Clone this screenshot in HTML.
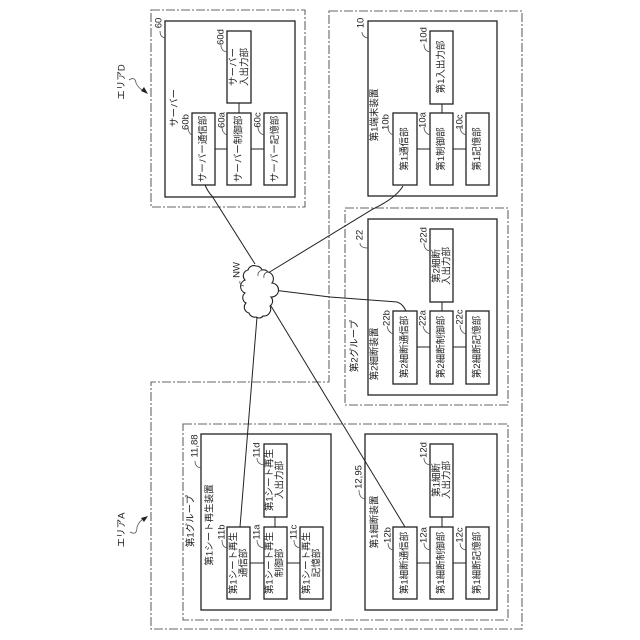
<!DOCTYPE html>
<html><head><meta charset="utf-8"><style>
html,body{margin:0;padding:0;background:#fff}
svg{display:block}
text{font-family:"Liberation Sans","Noto Sans CJK JP",sans-serif;font-size:9.5px;fill:#222;text-anchor:middle;dominant-baseline:central}
.b{fill:#fff;stroke:#222;stroke-width:1.3}
.d{fill:none;stroke:#666;stroke-width:1.1;stroke-dasharray:9 2 2 2}
.l{fill:none;stroke:#222;stroke-width:1}
.t{fill:none;stroke:#555;stroke-width:.8}
</style></head><body>
<svg width="640" height="640" viewBox="0 0 640 640" xmlns="http://www.w3.org/2000/svg">
<rect width="640" height="640" fill="#fff"/>
<!-- dashed areas -->
<rect class="d" x="151" y="10" width="154" height="197"/>
<path class="d" d="M329,11H522V629H151V382H329Z"/>
<rect class="d" x="345" y="208" width="163" height="197"/>
<rect class="d" x="183" y="424" width="325" height="196"/>
<!-- devices -->
<rect class="b" x="165" y="21" width="130" height="176"/>
<rect class="b" x="368" y="21" width="129" height="175"/>
<rect class="b" x="368" y="219" width="129" height="176"/>
<rect class="b" x="201" y="434" width="130" height="176"/>
<rect class="b" x="365" y="434" width="132" height="176"/>
<!-- inner connectors -->
<path class="l" d="M215,149H264M239,103V113M417,149H466M442,104V113M417,347H466M442,302V311M250,563H300M275,517V527M417,563H466M442,517V527"/>
<!-- server blocks -->
<rect class="b" x="227" y="31" width="24" height="72"/>
<rect class="b" x="192" y="113" width="23" height="72"/>
<rect class="b" x="227" y="113" width="24" height="72"/>
<rect class="b" x="264" y="113" width="23" height="72"/>
<!-- terminal blocks -->
<rect class="b" x="430" y="31" width="23" height="73"/>
<rect class="b" x="393" y="113" width="24" height="72"/>
<rect class="b" x="430" y="113" width="23" height="72"/>
<rect class="b" x="466" y="113" width="23" height="72"/>
<!-- group 2 blocks -->
<rect class="b" x="430" y="229" width="23" height="73"/>
<rect class="b" x="393" y="311" width="24" height="73"/>
<rect class="b" x="430" y="311" width="23" height="73"/>
<rect class="b" x="466" y="311" width="23" height="73"/>
<!-- group 1 player blocks -->
<rect class="b" x="264" y="444" width="23" height="73"/>
<rect class="b" x="227" y="527" width="23" height="72"/>
<rect class="b" x="264" y="527" width="23" height="72"/>
<rect class="b" x="300" y="527" width="23" height="72"/>
<!-- shredder blocks -->
<rect class="b" x="430" y="444" width="23" height="73"/>
<rect class="b" x="393" y="527" width="24" height="72"/>
<rect class="b" x="430" y="527" width="23" height="72"/>
<rect class="b" x="466" y="527" width="23" height="72"/>
<!-- network lines -->
<path class="l" d="M205,185Q208,192 212,196L255,264"/>
<path class="l" d="M268,273L373,209Q396,198 403,186"/>
<path class="l" d="M273,290L330,297L397,302Q403,304 406,311"/>
<path class="l" d="M271,306L405,527"/>
<path class="l" d="M257,317L240,527"/>
<!-- cloud -->
<path d="M248,270A6,6 0 0 1 256,266A6,6 0 0 1 262,270A6,6 0 0 1 268,272A7,7 0 0 1 272,283A7,7 0 0 1 271,297A6,6 0 0 1 270,306A7,7 0 0 1 263,316A5,5 0 0 1 256,317A6,6 0 0 1 249,313A6,6 0 0 1 246,303A6,6 0 0 1 245,293A7,7 0 0 1 245,280A6,6 0 0 1 248,270Z" fill="#fff" stroke="#222" stroke-width="1.1"/>
<path class="t" d="M262,270Q257,272 258,276M268,272Q263,273 264,278"/>
<!-- leaders -->
<path class="t" d="M160,31Q160,37 165,38M188,127Q188,133 192,135M222,127Q222,133 227,135M258,127Q258,133 264,135M221,45Q221,51 227,52M362,32Q362,37 368,38M388,127Q388,133 393,135M424,127Q424,133 430,135M460,127Q460,133 466,135M424,44Q424,51 430,52M360,243Q360,248 368,248M387,326Q388,332 393,334M423,326Q424,332 430,334M460,325Q460,332 466,334M424,243Q424,250 430,251M195,461Q195,467 201,468M222,540Q222,547 227,548M257,540Q257,547 264,548M294,540Q294,547 300,548M257,458Q257,464 264,465M359,490Q359,498 365,499M388,543Q388,549 393,550M424,543Q424,549 430,550M460,543Q460,549 466,550M424,458Q424,464 430,465M240,281Q239,285 244,286"/>
<path class="t" d="M129,80Q135,76 136,83Q138,88 145,92M130,532Q137,536 137,527Q139,521 145,518"/>
<path d="M148,94L141,91L144,87Z" fill="#222"/>
<path d="M148,516L144,522L141,518Z" fill="#222"/>
<!-- area labels -->
<text transform="rotate(-90 122 82)" x="122" y="82">エリアD</text>
<text transform="rotate(-90 122 530)" x="122" y="530">エリアA</text>
<text transform="rotate(-90 237 270)" x="237" y="270">NW</text>
<!-- server -->
<text transform="rotate(-90 175 108)" x="175" y="108">サーバー</text>
<text transform="rotate(-90 159 23)" x="159" y="23">60</text>
<text transform="rotate(-90 186 122)" x="186" y="122">60b</text>
<text transform="rotate(-90 222 120)" x="222" y="120">60a</text>
<text transform="rotate(-90 258 120)" x="258" y="120">60c</text>
<text transform="rotate(-90 221 37)" x="221" y="37">60d</text>
<text transform="rotate(-90 234 67)" x="234" y="67">サーバー</text>
<text transform="rotate(-90 245 67)" x="245" y="67">入出力部</text>
<text transform="rotate(-90 203.5 149)" x="203.5" y="149">サーバー通信部</text>
<text transform="rotate(-90 239 149)" x="239" y="149">サーバー制御部</text>
<text transform="rotate(-90 275.5 149)" x="275.5" y="149">サーバー記憶部</text>
<!-- terminal -->
<text transform="rotate(-90 375 115)" x="375" y="115">第1端末装置</text>
<text transform="rotate(-90 361 23)" x="361" y="23">10</text>
<text transform="rotate(-90 386 122)" x="386" y="122">10b</text>
<text transform="rotate(-90 423 120)" x="423" y="120">10a</text>
<text transform="rotate(-90 460 122)" x="460" y="122">10c</text>
<text transform="rotate(-90 424 35)" x="424" y="35">10d</text>
<text transform="rotate(-90 441.5 67)" x="441.5" y="67">第1入出力部</text>
<text transform="rotate(-90 405 149)" x="405" y="149">第1通信部</text>
<text transform="rotate(-90 441.5 149)" x="441.5" y="149">第1制御部</text>
<text transform="rotate(-90 477.5 149)" x="477.5" y="149">第1記憶部</text>
<!-- group 2 -->
<text transform="rotate(-90 355 346)" x="355" y="346">第2グループ</text>
<text transform="rotate(-90 375 354)" x="375" y="354">第2細断装置</text>
<text transform="rotate(-90 360 235)" x="360" y="235">22</text>
<text transform="rotate(-90 387 318)" x="387" y="318">22b</text>
<text transform="rotate(-90 423 318)" x="423" y="318">22a</text>
<text transform="rotate(-90 460 317)" x="460" y="317">22c</text>
<text transform="rotate(-90 424 235)" x="424" y="235">22d</text>
<text transform="rotate(-90 437 266)" x="437" y="266">第2細断</text>
<text transform="rotate(-90 447 266)" x="447" y="266">入出力部</text>
<text transform="rotate(-90 405 347)" x="405" y="347">第2細断通信部</text>
<text transform="rotate(-90 441.5 347)" x="441.5" y="347">第2細断制御部</text>
<text transform="rotate(-90 477.5 347)" x="477.5" y="347">第2細断記憶部</text>
<!-- group 1 -->
<text transform="rotate(-90 191 521)" x="191" y="521">第1グループ</text>
<text transform="rotate(-90 210 525)" x="210" y="525">第1シート再生装置</text>
<text transform="rotate(-90 195 446)" x="195" y="446">11,88</text>
<text transform="rotate(-90 222 532)" x="222" y="532">11b</text>
<text transform="rotate(-90 257 532)" x="257" y="532">11a</text>
<text transform="rotate(-90 294 532)" x="294" y="532">11c</text>
<text transform="rotate(-90 257 450)" x="257" y="450">11d</text>
<text transform="rotate(-90 234 563)" x="234" y="563">第1シート再生</text>
<text transform="rotate(-90 244 563)" x="244" y="563">通信部</text>
<text transform="rotate(-90 270 563)" x="270" y="563">第1シート再生</text>
<text transform="rotate(-90 280 563)" x="280" y="563">制御部</text>
<text transform="rotate(-90 307 563)" x="307" y="563">第1シート再生</text>
<text transform="rotate(-90 317 563)" x="317" y="563">記憶部</text>
<text transform="rotate(-90 270 480)" x="270" y="480">第1シート再生</text>
<text transform="rotate(-90 280 480)" x="280" y="480">入出力部</text>
<!-- device 12 -->
<text transform="rotate(-90 375 522)" x="375" y="522">第1細断装置</text>
<text transform="rotate(-90 359 477)" x="359" y="477">12,95</text>
<text transform="rotate(-90 388 535)" x="388" y="535">12b</text>
<text transform="rotate(-90 424 535)" x="424" y="535">12a</text>
<text transform="rotate(-90 460 535)" x="460" y="535">12c</text>
<text transform="rotate(-90 424 450)" x="424" y="450">12d</text>
<text transform="rotate(-90 437 480)" x="437" y="480">第1細断</text>
<text transform="rotate(-90 447 480)" x="447" y="480">入出力部</text>
<text transform="rotate(-90 405 563)" x="405" y="563">第1細断通信部</text>
<text transform="rotate(-90 441.5 563)" x="441.5" y="563">第1細断制御部</text>
<text transform="rotate(-90 477.5 563)" x="477.5" y="563">第1細断記憶部</text>
</svg>
</body></html>
